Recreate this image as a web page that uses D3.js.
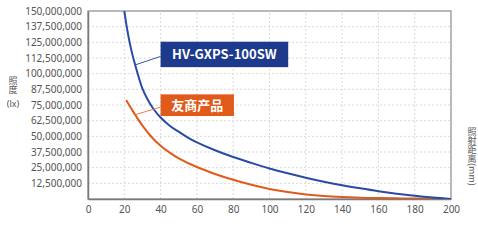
<!DOCTYPE html>
<html>
<head>
<meta charset="utf-8">
<script src="https://cdn.jsdelivr.net/npm/d3@7"></script>
<style>
  html, body { margin: 0; padding: 0; background: #fff; }
  svg { display: block; font-family: "Noto Sans", "Noto Sans CJK SC", sans-serif; }
</style>
</head>
<body>
<div id="chart"></div>
<script>
const WIDTH = 478;
const HEIGHT = 240;
const margin = { top: 11, right: 27, bottom: 41, left: 88 };

// distance (mm)
const xTicks = [0, 20, 40, 60, 80, 100, 120, 140, 160, 180, 200];
const yTicks = [12500000, 25000000, 37500000, 50000000, 62500000, 75000000,
  87500000, 100000000, 112500000, 125000000, 137500000, 150000000];

// HV-GXPS-100SW (lux in millions)
const ourDist = [19, 20, 22, 24, 26, 28, 30, 33, 36, 40, 45, 50, 55, 60, 70, 80, 90, 100, 110, 120, 130, 140, 150, 160, 170, 180, 190, 200];
const ourLux = [162, 150, 132, 118, 107, 97, 88, 79, 72, 65, 58.5, 53.6, 49, 45.2, 38.9, 33.5, 28.8, 24.4, 20.5, 17, 13.8, 11, 8.5, 6.2, 4.2, 2.5, 1.1, 0];

// 友商产品 (lux in millions)
const rivalDist = [21, 25, 30, 35, 40, 45, 50, 60, 70, 80, 90, 100, 110, 120, 130, 140, 150, 160, 170, 180, 193];
const rivalLux = [79, 69.5, 58.5, 49.5, 42.5, 37, 32.5, 25.5, 20, 15.3, 11.3, 8, 5.5, 3.6, 2.3, 1.5, 1.0, 0.7, 0.5, 0.4, 0.3];

const labels = [
  { name: "HV-GXPS-100SW", color: "#1d3a8c", line: "#3553a8", x0: 40, x1: 110.3, y0: 125.5, y1: 105.2, ax: 26 },
  { name: "友商产品", color: "#e05a1c", line: "#e8804f", x0: 40, x1: 80.4, y0: 83.5, y1: 66.2, ax: 26 }
];

const svg = d3.select("#chart").append("svg")
  .attr("width", WIDTH).attr("height", HEIGHT);

const x = d3.scaleLinear().domain([0, 200]).range([margin.left, WIDTH - margin.right]);
const y = d3.scaleLinear().domain([0, 150000000]).range([HEIGHT - margin.bottom, margin.top]);

// grid
svg.append("g").selectAll("line").data(xTicks.slice(1, -1)).enter().append("line")
  .attr("x1", d => x(d)).attr("x2", d => x(d))
  .attr("y1", y(0)).attr("y2", y(150000000))
  .attr("stroke", "#d9d9d9").attr("stroke-dasharray", "2,2");
svg.append("g").selectAll("line").data(yTicks.slice(0, -1)).enter().append("line")
  .attr("x1", x(0)).attr("x2", x(200))
  .attr("y1", d => y(d)).attr("y2", d => y(d))
  .attr("stroke", "#d9d9d9").attr("stroke-dasharray", "2,2");

// frame
svg.append("rect")
  .attr("x", x(0)).attr("y", y(150000000))
  .attr("width", x(200) - x(0)).attr("height", y(0) - y(150000000))
  .attr("fill", "none").attr("stroke", "#8a8a8a").attr("stroke-width", 1.2);

// axes
const yAxis = svg.append("g")
  .attr("transform", `translate(${x(0)},0)`)
  .call(d3.axisLeft(y).tickValues(yTicks).tickSize(0).tickPadding(6).tickFormat(d3.format(",")));
const xAxis = svg.append("g")
  .attr("transform", `translate(0,${y(0)})`)
  .call(d3.axisBottom(x).tickValues(xTicks).tickSize(0).tickPadding(7));
[xAxis, yAxis].forEach(g => {
  g.select(".domain").attr("stroke", "#7a7a7a").attr("stroke-width", 1.5);
  g.selectAll("text").attr("fill", "#555").style("font-size", "10px")
    .style("font-family", "'Noto Sans', sans-serif");
});

// curves
svg.append("clipPath").attr("id", "plot").append("rect")
  .attr("x", x(0)).attr("y", y(150000000))
  .attr("width", x(200) - x(0)).attr("height", y(0) - y(150000000));

const line = d3.line()
  .x(d => x(d[0])).y(d => y(d[1] * 1000000))
  .curve(d3.curveCatmullRom.alpha(0.5));

svg.append("path")
  .datum(rivalDist.map((d, i) => [d, rivalLux[i]]))
  .attr("clip-path", "url(#plot)")
  .attr("d", line).attr("fill", "none")
  .attr("stroke", "#e05a1c").attr("stroke-width", 2);

svg.append("path")
  .datum(ourDist.map((d, i) => [d, ourLux[i]]))
  .attr("clip-path", "url(#plot)")
  .attr("d", line).attr("fill", "none")
  .attr("stroke", "#2a4aa6").attr("stroke-width", 2);

// labels with leader lines
const series = [[ourDist, ourLux], [rivalDist, rivalLux]];
labels.forEach((l, i) => {
  const [ds, vs] = series[i];
  const ay = d3.scaleLinear().domain(ds).range(vs)(l.ax);
  svg.append("line")
    .attr("x1", x(l.ax)).attr("y1", y(ay * 1000000))
    .attr("x2", x(l.x0)).attr("y2", y((l.y0 + l.y1) / 2 * 1000000) + 2)
    .attr("stroke", l.line).attr("stroke-width", 1);
  svg.append("rect")
    .attr("x", x(l.x0)).attr("y", y(l.y0 * 1000000))
    .attr("width", x(l.x1) - x(l.x0))
    .attr("height", y(l.y1 * 1000000) - y(l.y0 * 1000000))
    .attr("fill", l.color);
  svg.append("text")
    .attr("x", (x(l.x0) + x(l.x1)) / 2)
    .attr("y", (y(l.y0 * 1000000) + y(l.y1 * 1000000)) / 2)
    .attr("dy", "0.36em")
    .attr("text-anchor", "middle")
    .attr("fill", "#fff")
    .style("font-family", "'Noto Sans CJK SC', 'Noto Sans', sans-serif")
    .style("font-weight", "bold").style("font-size", "13px")
    .text(l.name);
});

// axis titles (vertical text)
const titleFont = "'Noto Sans CJK SC', sans-serif";
svg.append("text")
  .attr("x", 13).attr("y", 76)
  .attr("fill", "#555").style("font-size", "9px")
  .style("font-family", titleFont)
  .style("writing-mode", "vertical-rl")
  .text("照度");
svg.append("text").attr("x", 13).attr("y", 107)
  .attr("text-anchor", "middle").attr("fill", "#555")
  .style("font-size", "9px").style("font-family", "'Noto Sans', sans-serif").text("(lx)");

svg.append("text")
  .attr("x", 472).attr("y", 127)
  .attr("fill", "#555").style("font-size", "9px")
  .style("font-family", titleFont)
  .style("writing-mode", "vertical-rl")
  .text("照射距离(mm)");
</script>
</body>
</html>
